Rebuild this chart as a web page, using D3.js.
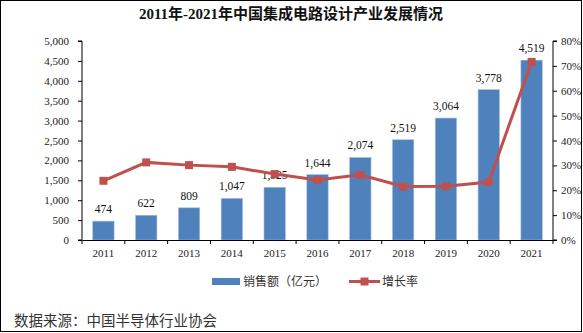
<!DOCTYPE html>
<html><head><meta charset="utf-8">
<script src="https://cdn.jsdelivr.net/npm/d3@7/dist/d3.min.js"></script>
<style>
body{margin:0;background:#fff;}
svg{display:block;}
</style></head>
<body>
<svg id="chart" width="583" height="333"></svg>
<script>
const years = ["2011","2012","2013","2014","2015","2016","2017","2018","2019","2020","2021"];
const sales = [474,622,809,1047,1325,1644,2074,2519,3064,3778,4519];
const growth = [23.8,31.2,30.1,29.4,26.5,24.1,26.2,21.5,21.6,23.3,71.6];
const leftTicks = [0,500,1000,1500,2000,2500,3000,3500,4000,4500,5000];
const rightTicks = [0,10,20,30,40,50,60,70,80];
const titleText = "2011年-2021年中国集成电路设计产业发展情况";
const legendNames = ["销售额（亿元）","增长率"];
const sourceText = "数据来源：中国半导体行业协会";

const svg = d3.select("#chart");
const serif = "'Liberation Serif','Times New Roman',serif";
const cjk = "'Noto Sans CJK SC',sans-serif";
const blue = "#4f81bd", red = "#c0504d";

// frame
svg.append("rect").attr("x",0.5).attr("y",0.5).attr("width",581).attr("height",331)
  .attr("fill","none").attr("stroke","#000").attr("stroke-width",1);

const L = 82, R = 553, T = 41, B = 240;
const x = d3.scaleBand().domain(years).range([L,R]).paddingInner(0.5).paddingOuter(0.25);
const xb = d3.scaleBand().domain(years).range([L,R]);
const y = d3.scaleLinear().domain([0,5000]).range([B,T]);
const y2 = d3.scaleLinear().domain([0,80]).range([B,T]);

// title
svg.append("text").attr("x",291).attr("y",19).attr("text-anchor","middle")
  .attr("font-family", serif + ",'Noto Sans CJK SC'").attr("font-weight","bold")
  .attr("font-size",15).attr("fill","#111").text(titleText);

// bars
svg.append("g").selectAll("rect").data(sales).join("rect")
  .attr("x",(d,i)=>x(years[i])).attr("width",x.bandwidth())
  .attr("y",d=>y(d)).attr("height",d=>B-y(d))
  .attr("fill",blue).attr("stroke","#a9c1e0").attr("stroke-width",0.6);

// bar labels
svg.append("g").selectAll("text").data(sales).join("text")
  .attr("x",(d,i)=>x(years[i])+x.bandwidth()/2).attr("y",d=>y(d)-8)
  .attr("text-anchor","middle").attr("font-family",serif).attr("font-size",11.5)
  .attr("fill","#111").text(d=>d3.format(",")(d));

// left axis
const ga = svg.append("g").attr("transform",`translate(${L},0)`)
  .call(d3.axisLeft(y).tickValues(leftTicks).tickFormat(d3.format(",")).tickSize(4).tickPadding(9));
// right axis
const gr = svg.append("g").attr("transform",`translate(${R},0)`)
  .call(d3.axisRight(y2).tickValues(rightTicks).tickFormat(d=>d+"%").tickSize(4).tickPadding(4));
// bottom axis
const gb = svg.append("g").attr("transform",`translate(0,${B})`)
  .call(d3.axisBottom(xb).tickSize(0).tickPadding(9));
gb.selectAll(".tick").append("line").attr("x1",-xb.bandwidth()/2).attr("x2",-xb.bandwidth()/2)
  .attr("y1",0).attr("y2",4).attr("stroke","#000");
gb.append("line").attr("x1",R).attr("x2",R).attr("y1",0).attr("y2",4).attr("stroke","#000");
[ga,gr,gb].forEach(g=>{
  g.selectAll("path").attr("stroke","#000").attr("stroke-width",1);
  g.selectAll("line").attr("stroke","#000");
  g.selectAll("text").attr("font-family",serif).attr("font-size",11).attr("fill","#222");
});
ga.select("path").attr("d",`M-4,${T}H0V${B}H-4`);
gr.select("path").attr("d",`M4,${T}H0V${B}H4`);

// growth line
const cx = (i)=>x(years[i])+x.bandwidth()/2;
const line = d3.line().x((d,i)=>cx(i)).y(d=>y2(d));
svg.append("path").datum(growth).attr("d",line).attr("fill","none")
  .attr("stroke",red).attr("stroke-width",3);
svg.append("g").selectAll("rect").data(growth).join("rect")
  .attr("x",(d,i)=>cx(i)-4).attr("y",d=>y2(d)-4).attr("width",8).attr("height",8)
  .attr("fill",red);

// legend
const lg = svg.append("g");
lg.append("rect").attr("x",212).attr("y",278).attr("width",28).attr("height",7).attr("fill",blue);
lg.append("text").attr("x",243).attr("y",286).attr("font-family",cjk).attr("font-size",12)
  .attr("fill","#333").text(legendNames[0]);
lg.append("line").attr("x1",349).attr("x2",380).attr("y1",281.5).attr("y2",281.5)
  .attr("stroke",red).attr("stroke-width",3);
lg.append("rect").attr("x",360.5).attr("y",277.5).attr("width",8).attr("height",8).attr("fill",red);
lg.append("text").attr("x",382).attr("y",286).attr("font-family",cjk).attr("font-size",12)
  .attr("fill","#333").text(legendNames[1]);

// source
svg.append("text").attr("x",14).attr("y",326).attr("font-family",cjk).attr("font-size",14.5)
  .attr("fill","#333").text(sourceText);
</script>
</body></html>
